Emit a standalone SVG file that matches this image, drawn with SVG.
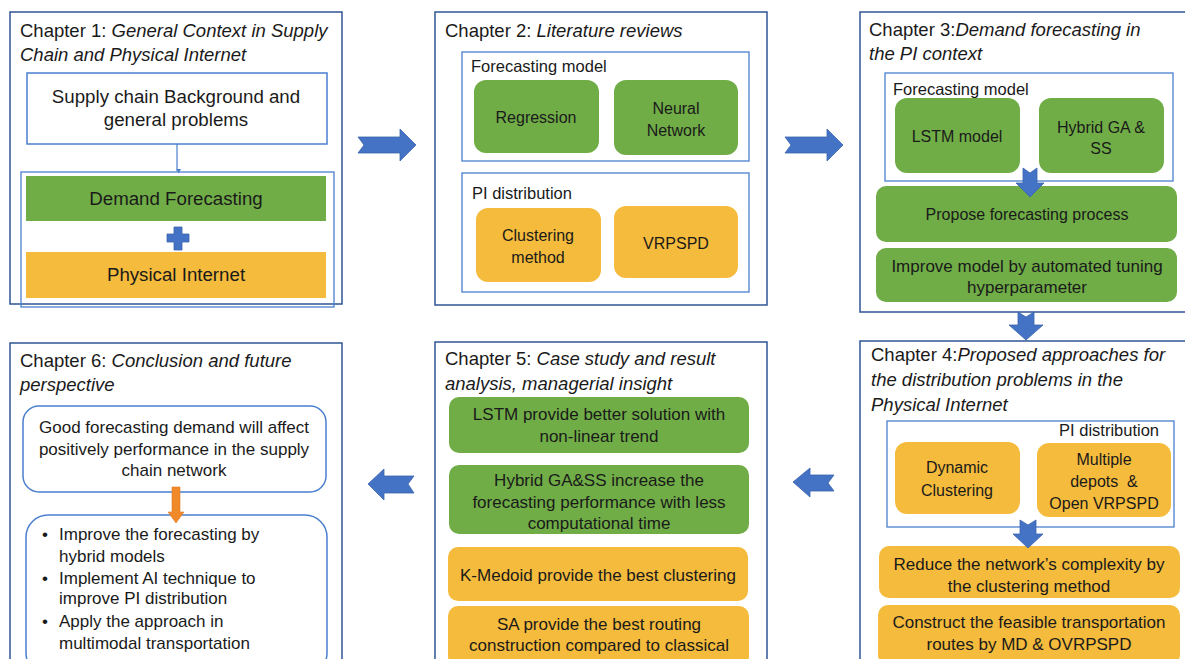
<svg xmlns="http://www.w3.org/2000/svg" width="1185" height="659" viewBox="0 0 1185 659">
<defs>
<style>
text{font-family:"Liberation Sans",Arial,sans-serif;fill:#1a1a1a}
.t{font-size:18.5px}
.b{font-size:16px}
.l{font-size:16.5px}
.m{font-size:17px}
.b18{font-size:18.7px}
.c{text-anchor:middle}
.i{font-style:italic}
.frame{fill:#fff;stroke:#2F5597;stroke-width:1.5}
.sub{fill:none;stroke:#4A7FCF;stroke-width:1.3}
.g{fill:#70AD47}
.o{fill:#F5BB3C}
.wb{fill:#fff;stroke:#4A7FCF;stroke-width:1.5}
.arr{fill:#4472C4;stroke:#3B64AE;stroke-width:0.8}
</style>
<marker id="mk" viewBox="0 0 6 6" refX="3" refY="5" markerWidth="5" markerHeight="5" orient="auto-start-reverse" markerUnits="userSpaceOnUse">
<path d="M0,0 L6,0 L3,6 Z" fill="#4A7FCF" transform="rotate(-90 3 3)"/>
</marker>
</defs>
<rect width="1185" height="659" fill="#fff"/>

<g id="chapter1">
<rect class="frame" x="10" y="12" width="332" height="292"/>
<text class="t" x="20" y="37">Chapter 1: <tspan class="i">General Context in Supply</tspan></text>
<text class="t i" x="20" y="61">Chain and Physical Internet</text>
<g id="ch1-background">
<rect class="wb" x="27" y="73" width="300" height="71"/>
<text class="b18 c" x="176" y="103">Supply chain Background and</text>
<text class="b18 c" x="176" y="126">general problems</text>
</g>
<rect class="sub" x="21" y="172" width="313" height="135"/>
<g id="ch1-demand">
<rect class="g" x="26" y="176" width="300" height="45"/>
<text class="b18 c" x="176" y="205">Demand Forecasting</text>
</g>
<path class="arr" d="M174,227 H182 V234 H189 V242 H182 V250 H174 V242 H167 V234 H174 Z"/>
<g id="ch1-pi">
<rect class="o" x="26" y="252" width="300" height="46"/>
<text class="b18 c" x="176" y="281">Physical Internet</text>
</g>
</g>

<g id="chapter2">
<rect class="frame" x="435" y="12" width="332" height="293"/>
<text class="t" x="445" y="37">Chapter 2: <tspan class="i">Literature reviews</tspan></text>
<rect class="sub" x="462" y="52" width="287" height="109"/>
<text class="l" x="471" y="72">Forecasting model</text>
<g id="ch2-regression">
<rect class="g" x="474" y="80" width="125" height="73" rx="12"/>
<text class="b c" x="536" y="123">Regression</text>
</g>
<g id="ch2-nn">
<rect class="g" x="614" y="80" width="124" height="75" rx="12"/>
<text class="b c" x="676" y="114">Neural</text>
<text class="b c" x="676" y="136">Network</text>
</g>
<rect class="sub" x="462" y="173" width="287" height="119"/>
<text class="l" x="472" y="199">PI distribution</text>
<g id="ch2-clustering">
<rect class="o" x="476" y="208" width="125" height="74" rx="12"/>
<text class="b c" x="538" y="241">Clustering</text>
<text class="b c" x="538" y="263">method</text>
</g>
<g id="ch2-vrpspd">
<rect class="o" x="614" y="206" width="124" height="72" rx="12"/>
<text class="b c" x="676" y="249">VRPSPD</text>
</g>
</g>

<g id="chapter3">
<rect class="frame" x="860" y="12" width="330" height="300"/>
<text class="t" x="869" y="36">Chapter 3:<tspan class="i">Demand forecasting in</tspan></text>
<text class="t i" x="869" y="60">the PI context</text>
<rect class="sub" x="885" y="73" width="288" height="108"/>
<text class="l" x="893" y="95">Forecasting model</text>
<g id="ch3-lstm">
<rect class="g" x="895" y="98" width="125" height="75" rx="12"/>
<text class="b c" x="957" y="142">LSTM model</text>
</g>
<g id="ch3-hybrid">
<rect class="g" x="1039" y="98" width="125" height="75" rx="12"/>
<text class="b c" x="1101" y="133">Hybrid GA &amp;</text>
<text class="b c" x="1101" y="154">SS</text>
</g>
<g id="ch3-propose">
<rect class="g" x="876" y="186" width="301" height="56" rx="10"/>
<text class="b c" x="1027" y="220">Propose forecasting process</text>
</g>
<g id="ch3-improve">
<rect class="g" x="876" y="248" width="301" height="54" rx="10"/>
<text class="m c" x="1027" y="272">Improve model by automated tuning</text>
<text class="m c" x="1027" y="293">hyperparameter</text>
</g>
</g>

<g id="chapter4">
<rect class="frame" x="860" y="341" width="330" height="330"/>
<text class="t" x="871" y="361">Chapter 4:<tspan class="i">Proposed approaches for</tspan></text>
<text class="t i" x="871" y="386">the distribution problems in the</text>
<text class="t i" x="871" y="411">Physical Internet</text>
<rect class="sub" x="887" y="421" width="287" height="106"/>
<text class="l" x="1159" y="436" text-anchor="end">PI distribution</text>
<g id="ch4-dynamic">
<rect class="o" x="895" y="442" width="125" height="72" rx="12"/>
<text class="b c" x="957" y="473">Dynamic</text>
<text class="b c" x="957" y="496">Clustering</text>
</g>
<g id="ch4-multiple">
<rect class="o" x="1037" y="443" width="134" height="74" rx="12"/>
<text class="b c" x="1104" y="465">Multiple</text>
<text class="b c" x="1104" y="487" xml:space="preserve">depots  &amp;</text>
<text class="b c" x="1104" y="509">Open VRPSPD</text>
</g>
<g id="ch4-reduce">
<rect class="o" x="879" y="546" width="301" height="52" rx="10"/>
<text class="m c" x="1029" y="570">Reduce the network’s complexity by</text>
<text class="m c" x="1029" y="592">the clustering method</text>
</g>
<g id="ch4-construct">
<rect class="o" x="878" y="605" width="302" height="60" rx="10"/>
<text class="m c" x="1029" y="628">Construct the feasible transportation</text>
<text class="m c" x="1029" y="650">routes by MD &amp; OVRPSPD</text>
</g>
</g>

<g id="chapter5">
<rect class="frame" x="435" y="342" width="332" height="330"/>
<text class="t" x="445" y="365">Chapter 5: <tspan class="i">Case study and result</tspan></text>
<text class="t i" x="445" y="390">analysis, managerial insight</text>
<g id="ch5-lstm">
<rect class="g" x="449" y="397" width="300" height="56" rx="10"/>
<text class="m c" x="599" y="420">LSTM provide better solution with</text>
<text class="m c" x="599" y="442">non-linear trend</text>
</g>
<g id="ch5-hybrid">
<rect class="g" x="449" y="465" width="300" height="69" rx="10"/>
<text class="m c" x="599" y="486">Hybrid GA&amp;SS increase the</text>
<text class="m c" x="599" y="508">forecasting performance with less</text>
<text class="m c" x="599" y="529">computational time</text>
</g>
<g id="ch5-kmedoid">
<rect class="o" x="448" y="547" width="300" height="54" rx="10"/>
<text class="m c" x="598" y="581">K-Medoid provide the best clustering</text>
</g>
<g id="ch5-sa">
<rect class="o" x="448" y="606" width="301" height="60" rx="10"/>
<text class="m c" x="599" y="630">SA provide the best routing</text>
<text class="m c" x="599" y="651">construction compared to classical</text>
</g>
</g>

<g id="chapter6">
<rect class="frame" x="10" y="343" width="332" height="330"/>
<text class="t" x="20" y="367">Chapter 6: <tspan class="i">Conclusion and future</tspan></text>
<text class="t i" x="20" y="391">perspective</text>
<g id="ch6-good">
<rect class="wb" x="23" y="406" width="303" height="86" rx="16"/>
<text class="m c" x="174" y="433">Good forecasting demand will affect</text>
<text class="m c" x="174" y="455">positively performance in the supply</text>
<text class="m c" x="174" y="476">chain network</text>
</g>
<g id="ch6-future">
<rect class="wb" x="26" y="515" width="301" height="160" rx="22"/>
<text class="m" x="42" y="540">•</text><text class="m" x="59" y="540">Improve the forecasting by</text>
<text class="m" x="59" y="562">hybrid models</text>
<text class="m" x="42" y="584">•</text><text class="m" x="59" y="584">Implement AI technique to</text>
<text class="m" x="59" y="604">improve PI distribution</text>
<text class="m" x="42" y="627">•</text><text class="m" x="59" y="627">Apply the approach in</text>
<text class="m" x="59" y="649">multimodal transportation</text>
</g>
</g>

<g id="connectors">
<line x1="177" y1="144" x2="177" y2="171" stroke="#4A7FCF" stroke-width="1.2" marker-end="url(#mk)"/>
<path class="arr" d="M358,137 L400,137 L400,129 L416,145 L400,161 L400,153 L358,153 L364,145 Z"/>
<path class="arr" d="M785,137 L827,137 L827,129 L843,145 L827,161 L827,153 L785,153 L791,145 Z"/>
<path class="arr" d="M1023,168 L1030,173 L1037,168 L1037,183 L1044,183 L1030,197 L1016,183 L1023,183 Z"/>
<path class="arr" d="M1018,312 L1026,317 L1034,312 L1034,325 L1043,325 L1026,340 L1009,325 L1018,325 Z"/>
<path class="arr" d="M1020,520 L1028,525 L1036,520 L1036,534 L1043,534 L1028,548 L1013,534 L1020,534 Z"/>
<path class="arr" d="M793,482 L810,468 L810,475 L834,475 L828,483 L834,491 L810,491 L810,497 Z"/>
<path class="arr" d="M368,484 L384,469 L384,476 L414,476 L408,484 L414,493 L384,493 L384,500 Z"/>
<path d="M172,487 L180,487 L180,512 L184,512 L176,523 L168,512 L172,512 Z" fill="#F0892A" stroke="#E07A1E" stroke-width="0.6"/>
</g>
</svg>
